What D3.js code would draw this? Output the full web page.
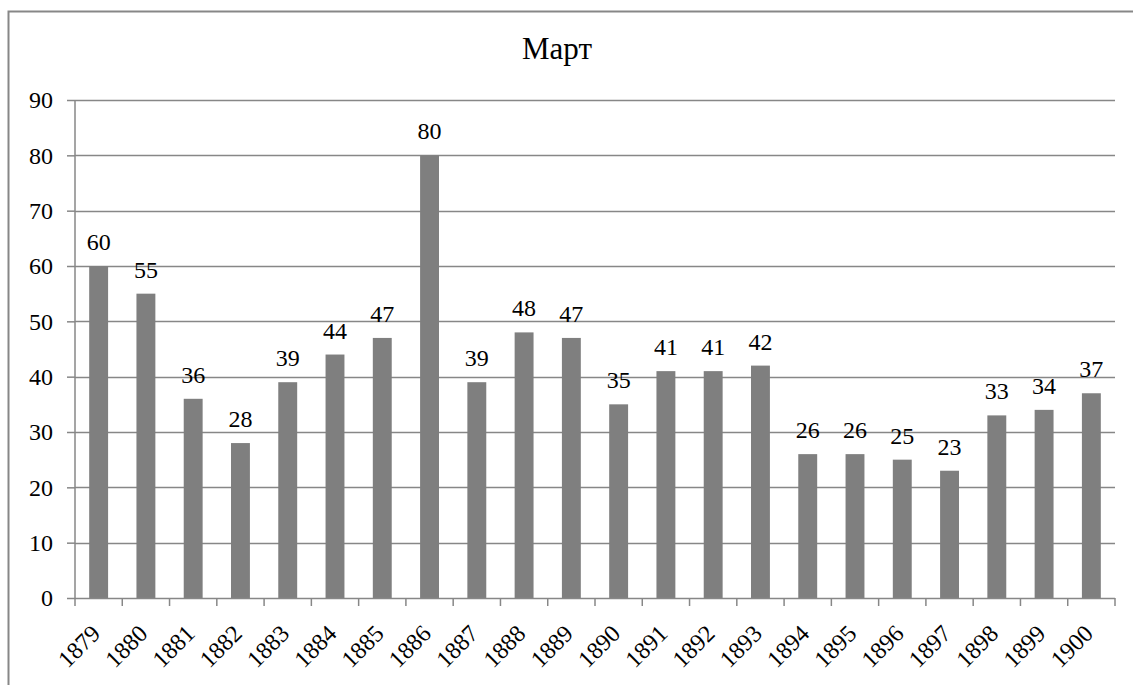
<!DOCTYPE html>
<html>
<head>
<meta charset="utf-8">
<script src="https://cdn.jsdelivr.net/npm/d3@7"></script>
<style>
  body { margin: 0; background: #fff; }
  svg text { font-family: "Liberation Serif", "Times New Roman", serif !important; fill: #000; }
</style>
</head>
<body>
<svg id="mainSvg" width="1133" height="685"></svg>
<script>
var years = ["1879","1880","1881","1882","1883","1884","1885","1886","1887","1888","1889",
             "1890","1891","1892","1893","1894","1895","1896","1897","1898","1899","1900"];
var values = [60,55,36,28,39,44,47,80,39,48,47,35,41,41,42,26,26,25,23,33,34,37];
var yTicks = [0,10,20,30,40,50,60,70,80,90];
var chartTitle = "Март";

var plotLeft = 75, plotRight = 1115, plotTop = 100, plotBottom = 598;
var lineColor = "#878787";
var barColor = "#7f7f7f";
var serif = "'Liberation Serif', 'Times New Roman', serif";

var svg = d3.select("#mainSvg");

// chart border
svg.append("rect")
    .attr("x", 8.5).attr("y", 11.5)
    .attr("width", 1300).attr("height", 900)
    .attr("fill", "none")
    .attr("stroke", lineColor)
    .attr("stroke-width", 2);

svg.append("text")
    .attr("x", 557).attr("y", 59)
    .attr("text-anchor", "middle")
    .style("font-family", serif)
    .attr("font-size", "31px")
    .text(chartTitle);

var x = d3.scaleBand().domain(years).range([plotLeft, plotRight]).paddingInner(0.6).paddingOuter(0.3);
var xBound = d3.scaleLinear().domain([0, years.length]).range([plotLeft, plotRight]);
var y = d3.scaleLinear().domain([0, 90]).range([plotBottom, plotTop]);

// gridlines
svg.append("g").selectAll("line")
    .data(yTicks.filter(function(d){ return d > 0; }))
    .enter().append("line")
    .attr("x1", plotLeft).attr("x2", plotRight)
    .attr("y1", function(d){ return Math.round(y(d)) + 0.5; })
    .attr("y2", function(d){ return Math.round(y(d)) + 0.5; })
    .attr("stroke", lineColor).attr("stroke-width", 1.5);

// y axis
var yAxis = svg.append("g").attr("transform", "translate(" + plotLeft + ",0)")
    .call(d3.axisLeft(y).tickValues(yTicks).tickSize(8).tickPadding(14).tickFormat(d3.format("d")));
yAxis.attr("font-family", null);
yAxis.selectAll("path, line").attr("stroke", lineColor).attr("stroke-width", 1.5);
yAxis.select(".domain").attr("d", "M0," + plotTop + "V" + plotBottom);
yAxis.selectAll("text").attr("font-size", "24px").style("font-family", serif).attr("fill", "#000");

// bars
svg.append("g").selectAll("rect")
    .data(values)
    .enter().append("rect")
    .attr("x", function(d,i){ return x(years[i]); })
    .attr("y", function(d){ return y(d); })
    .attr("width", x.bandwidth())
    .attr("height", function(d){ return plotBottom - y(d); })
    .attr("fill", barColor);

// x axis line and ticks
var xg = svg.append("g");
xg.append("line")
    .attr("x1", plotLeft).attr("x2", plotRight)
    .attr("y1", plotBottom + 0.5).attr("y2", plotBottom + 0.5)
    .attr("stroke", lineColor).attr("stroke-width", 1.5);
xg.selectAll(".xtick")
    .data(d3.range(years.length + 1))
    .enter().append("line")
    .attr("x1", function(d){ return xBound(d); })
    .attr("x2", function(d){ return xBound(d); })
    .attr("y1", plotBottom).attr("y2", plotBottom + 8)
    .attr("stroke", lineColor).attr("stroke-width", 1.5);

xg.selectAll(".xlabel")
    .data(years)
    .enter().append("text")
    .attr("transform", function(d){
        return "translate(" + (x(d) + x.bandwidth()/2 + 3) + "," + (plotBottom + 37) + ") rotate(-45)";
    })
    .attr("text-anchor", "end")
    .style("font-family", serif)
    .attr("font-size", "24px")
    .text(function(d){ return d; });

// value labels
svg.append("g").selectAll("text")
    .data(values)
    .enter().append("text")
    .attr("x", function(d,i){ return x(years[i]) + x.bandwidth()/2; })
    .attr("y", function(d){ return y(d) - 16; })
    .attr("text-anchor", "middle")
    .style("font-family", serif)
    .attr("font-size", "24px")
    .text(function(d){ return d; });
</script>
</body>
</html>
